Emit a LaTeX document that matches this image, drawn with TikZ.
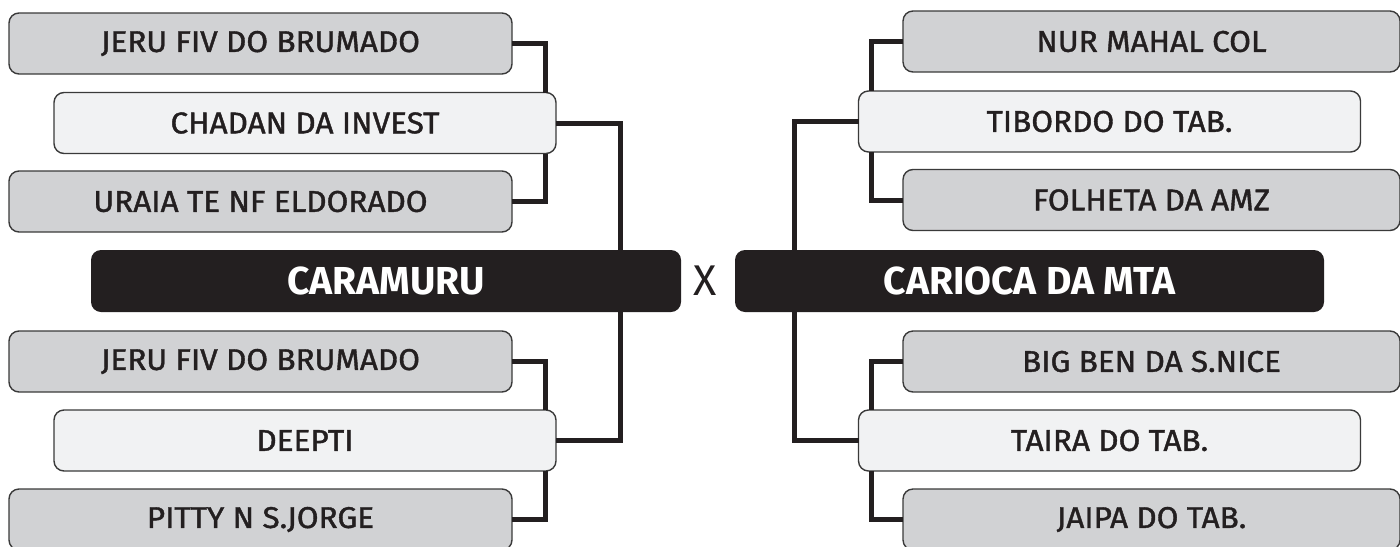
\documentclass[tikz,border=0pt]{standalone}
\usepackage{fontspec}
\setmainfont{Fira Sans}
\newfontfamily\horsefont{Fira Sans}[FakeBold=1.3, FakeStretch=1.05]
\usetikzlibrary{calc}
\definecolor{ink}{HTML}{231F20}
\definecolor{greyfill}{HTML}{D1D2D4}
\definecolor{lightfill}{HTML}{F1F2F3}
\definecolor{edge}{HTML}{3A3A3A}
\tikzset{
  horse/.style={draw=edge, line width=0.7pt, rounded corners=5pt, outer sep=0pt,
    inner sep=0pt, text=ink, font=\horsefont\fontsize{15}{17}\selectfont, minimum height=30.5pt},
  outer/.style={horse, fill=greyfill, minimum width=251.5pt},
  inner/.style={horse, fill=lightfill, minimum width=251pt},
  finalist/.style={fill=ink, rounded corners=5pt, outer sep=0pt, inner sep=0pt,
    text=white, font=\fontsize{19.5}{22}\bfseries\selectfont, minimum height=31pt, minimum width=295pt},
  conn/.style={draw=ink, line width=2.5pt, line join=miter, line cap=butt},
}
\begin{document}
\begin{tikzpicture}[x=0.5pt, y=-0.5pt]
\useasboundingbox (0,0) rectangle (1400,546);
% junction columns
\coordinate (jl) at (545,0);
\coordinate (kl) at (620,0);
\coordinate (jr) at (871,0);
\coordinate (kr) at (794,0);
% left side
\node[outer] (l1) at (260.5,43.5) {JERU FIV DO BRUMADO};
\node[inner] (l2) at (305,123) {CHADAN DA INVEST};
\node[outer] (l3) at (260.5,201.5) {URAIA TE NF ELDORADO};
\node[finalist] (fl) at (386,281) {CARAMURU};
\node[outer] (l4) at (260.5,361.5) {JERU FIV DO BRUMADO};
\node[inner] (l5) at (305,440.5) {DEEPTI};
\node[outer] (l6) at (260.5,519.5) {PITTY N S.JORGE};
% right side
\node[outer, minimum width=248.5pt] (r1) at (1151.5,41.5) {NUR MAHAL COL};
\node[inner] (r2) at (1109.5,121.5) {TIBORDO DO TAB.};
\node[outer, minimum width=248.5pt] (r3) at (1151.5,200) {FOLHETA DA AMZ};
\node[finalist, minimum width=294.5pt] (fr) at (1029.5,281) {CARIOCA DA MTA};
\node[outer, minimum width=248.5pt] (r4) at (1151.5,361.5) {BIG BEN DA S.NICE};
\node[inner] (r5) at (1109.5,440.5) {TAIRA DO TAB.};
\node[outer, minimum width=248.5pt] (r6) at (1151.5,519.5) {JAIPA DO TAB.};
% versus
\node[text=ink, font=\fontsize{21.5}{24}\selectfont, inner sep=0pt] (vs) at (705,281) {X};
% connectors left
\draw[conn] (l1.east) -| (jl |- l2.north);
\draw[conn] (l3.east) -| (jl |- l2.south);
\draw[conn] (l4.east) -| (jl |- l5.north);
\draw[conn] (l6.east) -| (jl |- l5.south);
\draw[conn] (l2.east) -| (kl |- fl.north);
\draw[conn] (l5.east) -| (kl |- fl.south);
% connectors right
\draw[conn] (r1.west) -| (jr |- r2.north);
\draw[conn] (r3.west) -| (jr |- r2.south);
\draw[conn] (r4.west) -| (jr |- r5.north);
\draw[conn] (r6.west) -| (jr |- r5.south);
\draw[conn] (r2.west) -| (kr |- fr.north);
\draw[conn] (r5.west) -| (kr |- fr.south);
\end{tikzpicture}
\end{document}
